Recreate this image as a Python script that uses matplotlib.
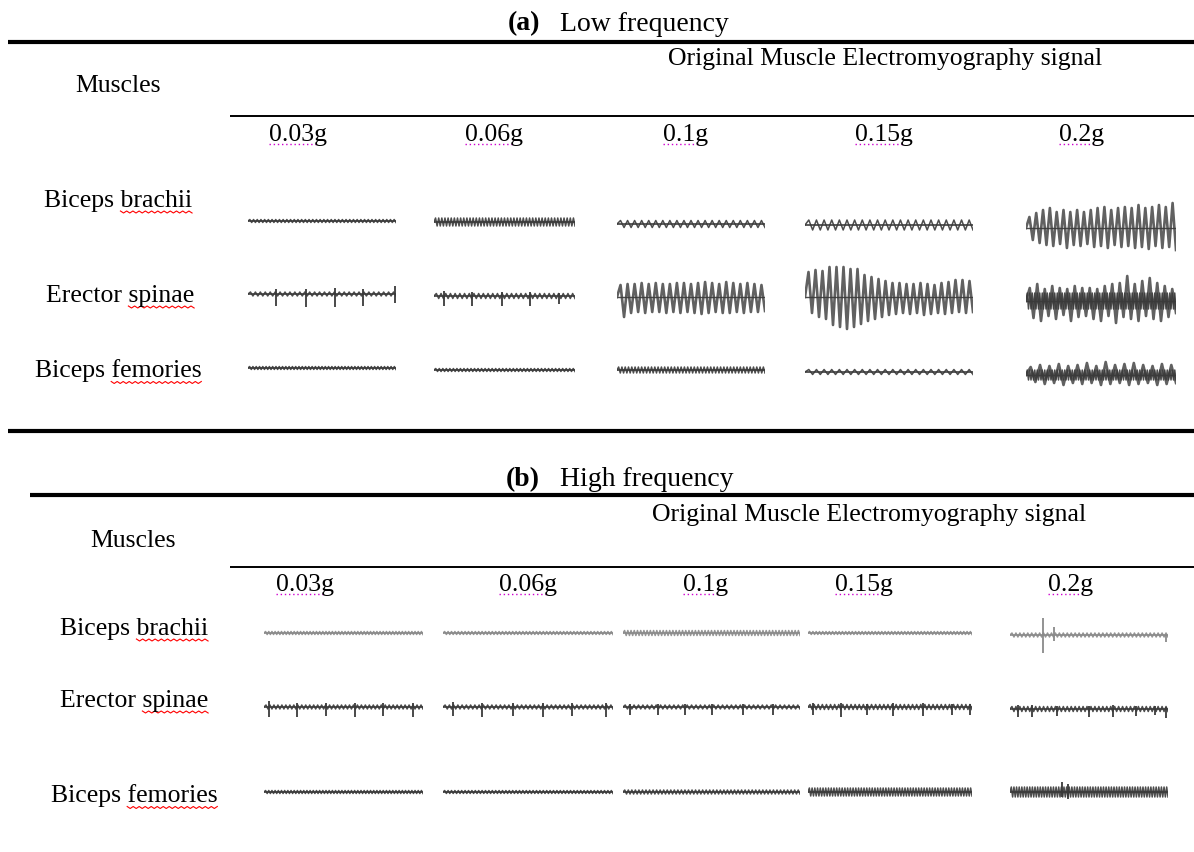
import numpy as np
import matplotlib.pyplot as plt

plt.rcParams['font.family'] = ['Liberation Serif', 'DejaVu Serif']

W, H = 1194, 853

muscles = ["Biceps brachii", "Erector spinae", "Biceps femories"]
loads = ["0.03g", "0.06g", "0.1g", "0.15g", "0.2g"]
panel_titles = ["Low frequency", "High frequency"]

# background wiggle of every trace: half height (px) and number of cycles
# rows = muscles, cols = loads
low_wiggle = [[1.5, 4.0, 3.5, 5.0, 0.0],
              [2.0, 2.5, 0.0, 0.0, 8.0],
              [1.5, 1.5, 3.0, 2.5, 5.0]]
low_cycles = [[40, 45, 21, 22, 0],
              [30, 30, 0, 0, 60],
              [45, 40, 45, 22, 60]]
high_wiggle = [[1.5, 1.5, 2.5, 1.5, 2.0],
               [2.0, 2.0, 2.0, 2.5, 2.5],
               [1.5, 1.5, 2.0, 4.0, 5.0]]
high_cycles = [[50, 50, 55, 50, 40],
               [40, 40, 40, 40, 40],
               [50, 50, 50, 60, 60]]

# big oscillations, peak heights per cycle (px above / below the baseline)
low_osc_up = {
    (0, 4): [11, 15, 18, 20, 16, 18, 16, 18, 16, 18, 20, 21, 18, 20, 21, 20, 23, 20, 21, 23, 21, 25],
    (1, 2): [12, 13, 13, 14, 13, 14, 13, 13, 14, 14, 13, 14, 15, 14, 13, 15, 14, 13, 14, 13, 12],
    (1, 3): [25, 27, 26, 30, 30, 30, 28, 28, 22, 20, 18, 16, 14, 14, 13, 13, 14, 13, 12, 14, 15, 17, 17, 16],
    (1, 4): [13, 17, 12, 15, 13, 12, 15, 13, 13, 12, 15, 17, 18, 25, 17, 20, 23, 18, 15, 12],
    (2, 4): [8, 10, 9, 11, 9, 10, 12, 9, 13, 10, 11, 12, 10, 9, 11, 10],
}
low_osc_down = {
    (0, 4): [12, 15, 17, 18, 16, 20, 17, 18, 16, 19, 18, 20, 17, 19, 18, 20, 19, 21, 18, 20, 19, 22],
    (1, 2): [20, 16, 15, 16, 15, 15, 16, 15, 16, 15, 16, 17, 16, 15, 16, 16, 15, 16, 15, 15, 14],
    (1, 3): [16, 20, 22, 28, 30, 32, 30, 27, 24, 22, 20, 18, 17, 16, 17, 16, 18, 17, 16, 17, 16, 15, 16, 15],
    (1, 4): [17, 20, 15, 18, 14, 20, 16, 15, 18, 20, 15, 22, 16, 18, 20, 15, 18, 20, 16, 12],
    (2, 4): [7, 9, 8, 10, 8, 9, 8, 10, 9, 8, 10, 9, 8, 10, 9, 8],
}

# single spikes: (position along trace, px up, px down)
low_spikes = {
    (1, 0): [(0.19, 5, 12), (0.39, 5, 13), (0.59, 6, 13), (0.78, 5, 12), (0.99, 8, 9)],
    (1, 1): [(0.07, 5, 10), (0.27, 4, 10), (0.48, 4, 10), (0.68, 4, 10), (0.89, 3, 8)],
}
high_spikes = {
    (0, 4): [(0.21, 17, 18), (0.28, 8, 6), (0.99, 0, 7)],
    (1, 0): [(0.03, 6, 10), (0.21, 4, 10), (0.39, 4, 9), (0.57, 4, 10), (0.75, 4, 9), (0.94, 4, 10)],
    (1, 1): [(0.06, 5, 9), (0.23, 4, 10), (0.41, 4, 9), (0.59, 4, 10), (0.76, 4, 9), (0.96, 4, 10)],
    (1, 2): [(0.04, 3, 8), (0.2, 3, 8), (0.35, 3, 8), (0.5, 3, 8), (0.68, 3, 8), (0.85, 3, 8)],
    (1, 3): [(0.03, 4, 8), (0.2, 4, 10), (0.36, 3, 8), (0.52, 4, 9), (0.7, 4, 9), (0.88, 3, 8), (0.99, 3, 8)],
    (1, 4): [(0.05, 4, 8), (0.14, 4, 8), (0.3, 3, 7), (0.5, 3, 8), (0.65, 4, 8), (0.8, 3, 7), (0.92, 3, 6), (0.99, 2, 9)],
    (2, 4): [(0.33, 10, 5), (0.37, 8, 7)],
}

# ---- layout (pixels) ----
low_x = [(248, 396), (434, 575), (617, 765), (805, 973), (1026, 1176)]
high_x = [(264, 423), (443, 613), (623, 800), (808, 972), (1010, 1168)]
low_y = [[222, 223, 225, 226, 229], [295, 297, 298, 298, 302], [369, 371, 371, 373, 376]]
high_y = [[634, 634, 634, 634, 636], [708, 708, 708, 708, 710], [793, 793, 793, 793, 793]]

fig = plt.figure(figsize=(W / 100, H / 100), dpi=100)
ax0 = fig.add_axes([0, 0, 1, 1])
ax0.set_xlim(0, W)
ax0.set_ylim(H, 0)
ax0.axis('off')


def zigzag(up, down):
    n = len(up)
    x = np.linspace(0, 1, 2 * n + 1)
    y = np.zeros(2 * n + 1)
    y[1::2] = up
    y[2::2] = -np.asarray(down)
    return x, y


def draw_cell(x0, x1, yc, amp, n, up, down, spikes, color):
    ax = fig.add_axes([x0 / W, 1 - (yc + 40) / H, (x1 - x0) / W, 80 / H])
    ax.set_xlim(0, 1)
    ax.set_ylim(-40, 40)
    ax.axis('off')
    if n > 0:
        x, y = zigzag([amp] * n, [amp] * n)
        ax.plot(x, y, color=color, lw=1.1, alpha=0.9)
    if up is not None:
        x, y = zigzag(up, down)
        ax.plot(x, y, color=color, lw=1.9, alpha=0.8)
    for f, u, d in spikes:
        ax.vlines(f, -d, u, color=color, lw=1.3)
    ax.hlines(0, 0, 1, color=color, lw=1.0 if up is not None else 1.3, alpha=0.9)


for r in range(3):
    for c in range(5):
        draw_cell(low_x[c][0], low_x[c][1], low_y[r][c], low_wiggle[r][c], low_cycles[r][c],
                  low_osc_up.get((r, c)), low_osc_down.get((r, c)),
                  low_spikes.get((r, c), []), '#3a3a3a')
        col = '#8a8a8a' if r == 0 else '#3a3a3a'
        draw_cell(high_x[c][0], high_x[c][1], high_y[r][c], high_wiggle[r][c], high_cycles[r][c],
                  None, None, high_spikes.get((r, c), []), col)

# ---- table rules ----
ax0.hlines(43, 8, W, color='black', lw=3)
ax0.hlines(117, 230, W, color='black', lw=1.4)
ax0.hlines(432, 8, W, color='black', lw=3)
ax0.hlines(496, 30, W, color='black', lw=3)
ax0.hlines(568, 230, W, color='black', lw=1.4)

fs = 18.5
fs_title = 20
label_pos = {
    'title_y': [24, 480],
    'sub_x': [668, 652], 'sub_y': [59, 515],
    'mus_x': [75, 90], 'mus_y': [86, 541],
    'col_y': [135, 585],
    'col_x': [[298, 494, 686, 884, 1082], [305, 528, 706, 864, 1071]],
    'row_x': [[118, 120, 118], [134, 134, 134]],
    'row_y': [[201, 296, 371], [629, 701, 796]],
}
underlines = []
for p in range(2):
    ax0.text(540, label_pos['title_y'][p], "(%s)" % "ab"[p], fontsize=fs_title, fontweight='bold',
             ha='right', va='center')
    ax0.text(560, label_pos['title_y'][p], panel_titles[p], fontsize=fs_title, ha='left', va='center')
    ax0.text(label_pos['sub_x'][p], label_pos['sub_y'][p], "Original Muscle Electromyography signal",
             fontsize=fs, ha='left', va='center')
    ax0.text(label_pos['mus_x'][p], label_pos['mus_y'][p], "Muscles", fontsize=fs, ha='left', va='center')
    for c in range(5):
        t = ax0.text(label_pos['col_x'][p][c], label_pos['col_y'][p], loads[c], fontsize=fs,
                     ha='center', va='center')
        underlines.append((t, 'col'))
    for r in range(3):
        t = ax0.text(label_pos['row_x'][p][r], label_pos['row_y'][p][r], muscles[r], fontsize=fs,
                     ha='center', va='center')
        underlines.append((t, 'row'))

# spell-check marks under some words
fig.canvas.draw()
rend = fig.canvas.get_renderer()
inv = ax0.transData.inverted()
for t, kind in underlines:
    bb = t.get_window_extent(rend)
    (xa, ya), (xb, yb) = inv.transform([(bb.x0, bb.y0), (bb.x1, bb.y1)])
    if kind == 'col':
        ax0.hlines(ya - 1, xa, xb - 10, color='#d000d0', lw=1.0, linestyles=(0, (1, 2)))
    else:
        first = t.get_text().split()[0] + " "
        tmp = ax0.text(0, 0, first, fontsize=fs)
        w = tmp.get_window_extent(rend).width
        tmp.remove()
        xs = xa + w
        n = int((xb - xs) / 3)
        zx = np.linspace(xs, xb, n + 1)
        zy = ya + np.where(np.arange(n + 1) % 2 == 0, 0, 2)
        ax0.plot(zx, zy, color='red', lw=0.8)

fig.savefig('out.png', dpi=100)
